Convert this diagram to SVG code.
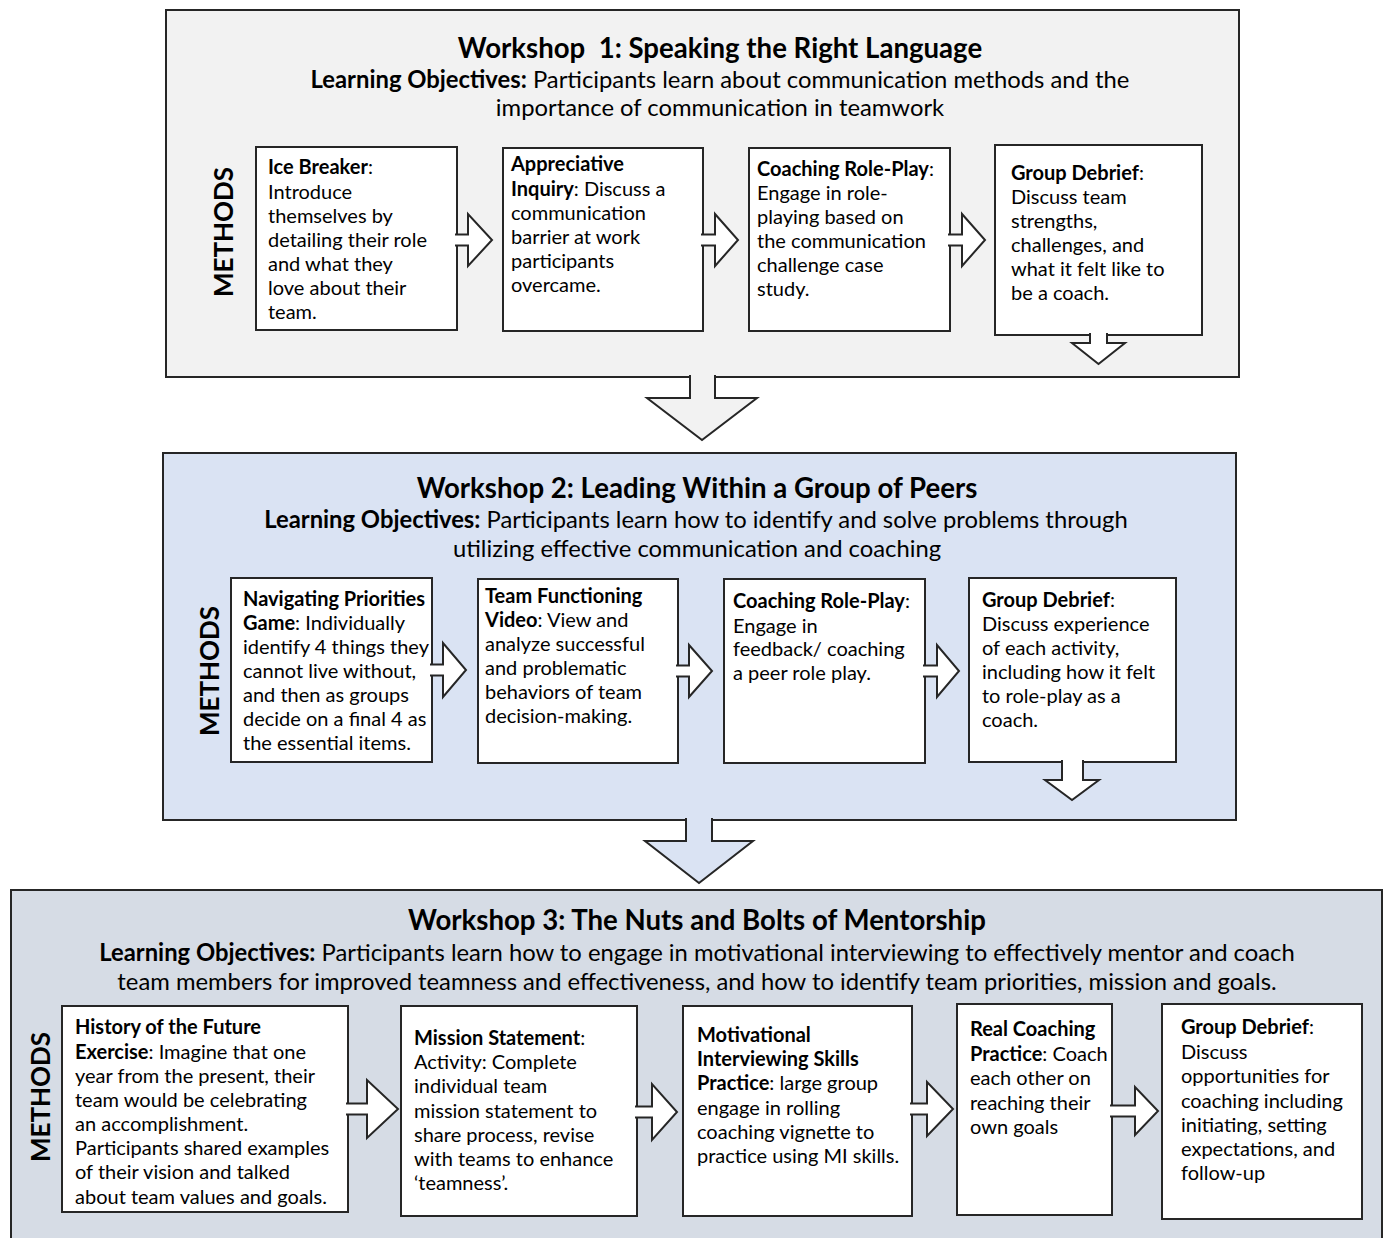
<svg xmlns="http://www.w3.org/2000/svg" width="1387" height="1238" viewBox="0 0 1387 1238">
<style>
text{font-family:Lato,"Liberation Sans",sans-serif;fill:#000}
.t{font-size:27.6px;font-weight:700}
.lo{font-size:23.8px}
.b{font-weight:700}
.bx{font-size:20px}
.m{font-size:26px;font-weight:700}
.box{fill:#fff;stroke:#262626;stroke-width:2}
.pan{stroke:#262626;stroke-width:2}
.arr{stroke:#262626;stroke-width:2;stroke-linejoin:miter}
.w{fill:#fff}
</style>
<rect width="1387" height="1238" fill="#fff"/>
<g id="workshop1">
<rect class="pan" x="166" y="10" width="1073" height="367" fill="#f2f2f2"/>
<text class="t" x="720" y="58" text-anchor="middle" xml:space="preserve">Workshop  1: Speaking the Right Language</text>
<text class="lo" x="720" y="88" text-anchor="middle"><tspan class="b">Learning Objectives:</tspan> Participants learn about communication methods and the</text>
<text class="lo" x="720" y="116" text-anchor="middle">importance of communication in teamwork</text>
<text class="m" transform="translate(233,232) rotate(-90)" text-anchor="middle">METHODS</text>
</g>
<g id="workshop2">
<rect class="pan" x="163" y="453" width="1073" height="367" fill="#dae3f3"/>
<text class="t" x="697" y="498" text-anchor="middle">Workshop 2: Leading Within a Group of Peers</text>
<text class="lo" x="696" y="528" text-anchor="middle"><tspan class="b">Learning Objectives:</tspan> Participants learn how to identify and solve problems through</text>
<text class="lo" x="697" y="557" text-anchor="middle">utilizing effective communication and coaching</text>
<text class="m" transform="translate(219,671) rotate(-90)" text-anchor="middle">METHODS</text>
</g>
<g id="workshop3">
<rect class="pan" x="11" y="890" width="1371" height="360" fill="#d6dce5"/>
<text class="t" x="697" y="930" text-anchor="middle">Workshop 3: The Nuts and Bolts of Mentorship</text>
<text class="lo" x="697" y="961" text-anchor="middle"><tspan class="b">Learning Objectives:</tspan> Participants learn how to engage in motivational interviewing to effectively mentor and coach</text>
<text class="lo" x="697" y="990" text-anchor="middle">team members for improved teamness and effectiveness, and how to identify team priorities, mission and goals.</text>
<text class="m" transform="translate(50,1097) rotate(-90)" text-anchor="middle">METHODS</text>
</g>

<g id="w1-ice-breaker">
<rect class="box" x="256" y="147" width="201" height="183"/>
<text class="bx"><tspan x="268" y="174"><tspan class="b">Ice Breaker</tspan>:</tspan><tspan x="268" y="199">Introduce</tspan><tspan x="268" y="223">themselves by</tspan><tspan x="268" y="247">detailing their role</tspan><tspan x="268" y="271">and what they</tspan><tspan x="268" y="295">love about their</tspan><tspan x="268" y="319">team.</tspan></text>
</g>
<g id="w1-appreciative-inquiry">
<rect class="box" x="503" y="148" width="200" height="183"/>
<text class="bx"><tspan x="511" y="171" class="b">Appreciative</tspan><tspan x="511" y="196"><tspan class="b">Inquiry</tspan>: Discuss a</tspan><tspan x="511" y="220">communication</tspan><tspan x="511" y="244">barrier at work</tspan><tspan x="511" y="268">participants</tspan><tspan x="511" y="292">overcame.</tspan></text>
</g>
<g id="w1-coaching-role-play">
<rect class="box" x="749" y="148" width="201" height="183"/>
<text class="bx"><tspan x="757" y="176"><tspan class="b">Coaching Role-Play</tspan>:</tspan><tspan x="757" y="200">Engage in role-</tspan><tspan x="757" y="224">playing based on</tspan><tspan x="757" y="248">the communication</tspan><tspan x="757" y="272">challenge case</tspan><tspan x="757" y="296">study.</tspan></text>
</g>
<g id="w1-group-debrief">
<rect class="box" x="995" y="145" width="207" height="190"/>
<text class="bx"><tspan x="1011" y="180"><tspan class="b">Group Debrief</tspan>:</tspan><tspan x="1011" y="204">Discuss team</tspan><tspan x="1011" y="228">strengths,</tspan><tspan x="1011" y="252">challenges, and</tspan><tspan x="1011" y="276">what it felt like to</tspan><tspan x="1011" y="300">be a coach.</tspan></text>
</g>

<g id="w2-navigating-priorities">
<rect class="box" x="231" y="578" width="201" height="184"/>
<text class="bx"><tspan x="243" y="606" class="b">Navigating Priorities</tspan><tspan x="243" y="630"><tspan class="b">Game</tspan>: Individually</tspan><tspan x="243" y="654">identify 4 things they</tspan><tspan x="243" y="678">cannot live without,</tspan><tspan x="243" y="702">and then as groups</tspan><tspan x="243" y="726">decide on a final 4 as</tspan><tspan x="243" y="750">the essential items.</tspan></text>
</g>
<g id="w2-team-functioning-video">
<rect class="box" x="478" y="579" width="200" height="184"/>
<text class="bx"><tspan x="485" y="603" class="b">Team Functioning</tspan><tspan x="485" y="627"><tspan class="b">Video</tspan>: View and</tspan><tspan x="485" y="651">analyze successful</tspan><tspan x="485" y="675">and problematic</tspan><tspan x="485" y="699">behaviors of team</tspan><tspan x="485" y="723">decision-making.</tspan></text>
</g>
<g id="w2-coaching-role-play">
<rect class="box" x="724" y="579" width="201" height="184"/>
<text class="bx"><tspan x="733" y="608"><tspan class="b">Coaching Role-Play</tspan>:</tspan><tspan x="733" y="633">Engage in</tspan><tspan x="733" y="656">feedback/ coaching</tspan><tspan x="733" y="680">a peer role play.</tspan></text>
</g>
<g id="w2-group-debrief">
<rect class="box" x="969" y="578" width="207" height="184"/>
<text class="bx"><tspan x="982" y="607"><tspan class="b">Group Debrief</tspan>:</tspan><tspan x="982" y="631">Discuss experience</tspan><tspan x="982" y="655">of each activity,</tspan><tspan x="982" y="679">including how it felt</tspan><tspan x="982" y="703">to role-play as a</tspan><tspan x="982" y="727">coach.</tspan></text>
</g>

<g id="w3-history-of-the-future">
<rect class="box" x="62" y="1006" width="286" height="206"/>
<text class="bx"><tspan x="75" y="1034" class="b">History of the Future</tspan><tspan x="75" y="1059"><tspan class="b">Exercise</tspan>: Imagine that one</tspan><tspan x="75" y="1083">year from the present, their</tspan><tspan x="75" y="1107">team would be celebrating</tspan><tspan x="75" y="1131">an accomplishment.</tspan><tspan x="75" y="1155">Participants shared examples</tspan><tspan x="75" y="1179">of their vision and talked</tspan><tspan x="75" y="1204">about team values and goals.</tspan></text>
</g>
<g id="w3-mission-statement">
<rect class="box" x="401" y="1006" width="236" height="210"/>
<text class="bx"><tspan x="414" y="1045"><tspan class="b">Mission Statement</tspan>:</tspan><tspan x="414" y="1069">Activity: Complete</tspan><tspan x="414" y="1093">individual team</tspan><tspan x="414" y="1118">mission statement to</tspan><tspan x="414" y="1142">share process, revise</tspan><tspan x="414" y="1166">with teams to enhance</tspan><tspan x="414" y="1190">‘teamness’.</tspan></text>
</g>
<g id="w3-motivational-interviewing">
<rect class="box" x="683" y="1006" width="229" height="210"/>
<text class="bx"><tspan x="697" y="1042" class="b">Motivational</tspan><tspan x="697" y="1066" class="b">Interviewing Skills</tspan><tspan x="697" y="1090"><tspan class="b">Practice</tspan>: large group</tspan><tspan x="697" y="1115">engage in rolling</tspan><tspan x="697" y="1139">coaching vignette to</tspan><tspan x="697" y="1163">practice using MI skills.</tspan></text>
</g>
<g id="w3-real-coaching-practice">
<rect class="box" x="957" y="1004" width="155" height="211"/>
<text class="bx"><tspan x="970" y="1036" class="b">Real Coaching</tspan><tspan x="970" y="1061"><tspan class="b">Practice</tspan>: Coach</tspan><tspan x="970" y="1085">each other on</tspan><tspan x="970" y="1110">reaching their</tspan><tspan x="970" y="1134">own goals</tspan></text>
</g>
<g id="w3-group-debrief">
<rect class="box" x="1162" y="1004" width="200" height="215"/>
<text class="bx"><tspan x="1181" y="1034"><tspan class="b">Group Debrief</tspan>:</tspan><tspan x="1181" y="1059">Discuss</tspan><tspan x="1181" y="1083">opportunities for</tspan><tspan x="1181" y="1108">coaching including</tspan><tspan x="1181" y="1132">initiating, setting</tspan><tspan x="1181" y="1156">expectations, and</tspan><tspan x="1181" y="1180">follow-up</tspan></text>
</g>

<g id="connectors" class="arr">
<path class="w" d="M455,234.5 H468 V214 L492,240 L468,266 V245.5 H455"/>
<path class="w" d="M701,234.5 H715 V214 L738,240 L715,266 V245.5 H701"/>
<path class="w" d="M948,234.5 H962 V214 L985,240 L962,266 V245.5 H948"/>
<path class="w" d="M1090,333 V343 H1072 L1098.5,364 L1125,343 H1107 V333"/>
<path fill="#f2f2f2" d="M690,375 V398 H647 L702,440 L757,398 H715 V375"/>
<path class="w" d="M430,664.5 H443 V643 L466,670 L443,697 V675.5 H430"/>
<path class="w" d="M676,665.5 H689 V645 L712,671 L689,697 V676.5 H676"/>
<path class="w" d="M923,665.5 H937 V645 L959,671 L937,697 V676.5 H923"/>
<path class="w" d="M1062,760 V780 H1045 L1072,800 L1099,780 H1083 V760"/>
<path fill="#dae3f3" d="M686,818 V841 H645 L699,883 L753,841 H712 V818"/>
<path class="w" d="M346,1103.5 H367 V1080 L398,1109 L367,1138 V1114.5 H346"/>
<path class="w" d="M635,1106.5 H652 V1084 L677,1112 L652,1140 V1117.5 H635"/>
<path class="w" d="M910,1103.5 H927 V1082 L953,1109 L927,1136 V1114.5 H910"/>
<path class="w" d="M1110,1105.5 H1135 V1087 L1158,1111 L1135,1135 V1116.5 H1110"/>
</g>
</svg>
